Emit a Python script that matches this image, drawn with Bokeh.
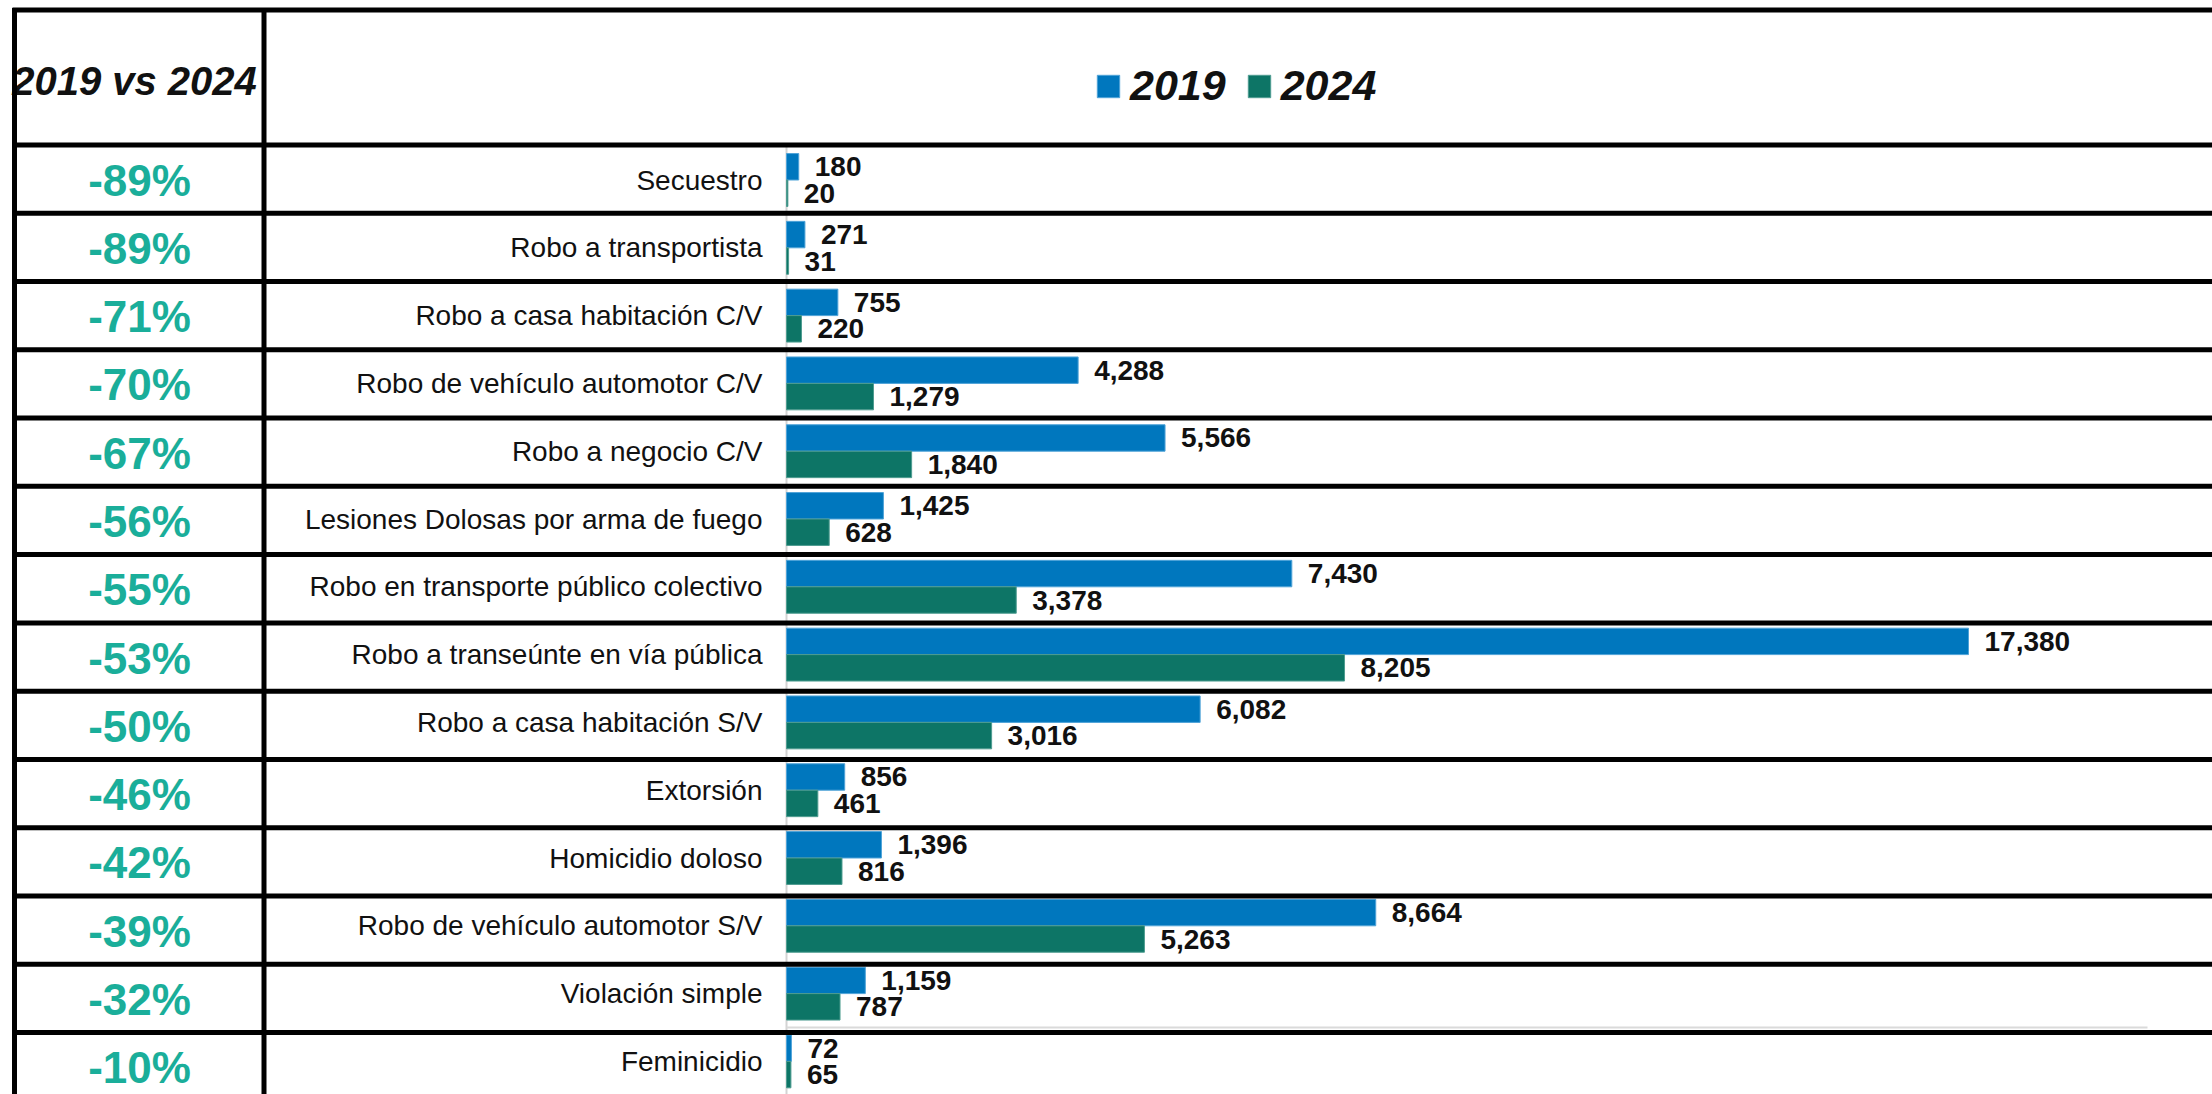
from bokeh.plotting import figure
from bokeh.models import Range1d, ColumnDataSource, Legend, LegendItem
from bokeh.core.properties import value
from bokeh.embed import file_html
from bokeh.resources import INLINE

# ---------------- data ----------------
categories = [
    "Secuestro",
    "Robo a transportista",
    "Robo a casa habitación C/V",
    "Robo de vehículo automotor C/V",
    "Robo a negocio C/V",
    "Lesiones Dolosas por arma de fuego",
    "Robo en transporte público colectivo",
    "Robo a transeúnte en vía pública",
    "Robo a casa habitación S/V",
    "Extorsión",
    "Homicidio doloso",
    "Robo de vehículo automotor S/V",
    "Violación simple",
    "Feminicidio",
]
values_2019 = [180, 271, 755, 4288, 5566, 1425, 7430, 17380, 6082, 856, 1396, 8664, 1159, 72]
values_2024 = [20, 31, 220, 1279, 1840, 628, 3378, 8205, 3016, 461, 816, 5263, 787, 65]
change_labels = ["-89%", "-89%", "-71%", "-70%", "-67%", "-56%", "-55%", "-53%",
                 "-50%", "-46%", "-42%", "-39%", "-32%", "-10%"]
series_names = ["2019", "2024"]
header_label = "2019 vs 2024"

# ---------------- layout constants ----------------
W, H = 2212, 1094
PX_PER_UNIT = 0.06801          # pixels per incident
ZERO_PX = 786                  # x pixel of the value axis zero
CAT_STEP = 67.8                # pixels per chart category
FIRST_CAT = 179.5              # y pixel of the first category centre
TABLE_ROW = 68.27              # pixels per table row
HEADER_BOTTOM = 144.5          # y pixel of header bottom line
BAR_H = 0.39
BLUE = "#0077BE"
TEAL = "#0D7566"
PCT = "#1AAE9A"
FONT = "Liberation Sans"

n = len(categories)
idx = list(range(n))

p = figure(
    width=W, height=H,
    x_range=Range1d(-ZERO_PX / PX_PER_UNIT, (W - ZERO_PX) / PX_PER_UNIT),
    y_range=Range1d((H - FIRST_CAT) / CAT_STEP, -FIRST_CAT / CAT_STEP),
    output_backend="svg", toolbar_location=None, min_border=0,
)
p.extra_x_ranges = {"px": Range1d(0, W)}
p.extra_y_ranges = {"py": Range1d(H, 0)}
p.axis.visible = False
p.grid.visible = False
p.outline_line_color = None
p.background_fill_color = "white"
p.border_fill_color = "white"

# light grey chart frame lines
p.segment(x0=[ZERO_PX], y0=[HEADER_BOTTOM], x1=[ZERO_PX], y1=[H], x_range_name="px",
          y_range_name="py", line_color="#D3D3D3", line_width=2)
p.segment(x0=[ZERO_PX], y0=[1027], x1=[2147], y1=[1027], x_range_name="px",
          y_range_name="py", line_color="#DADADA", line_width=2)

# bars
src = ColumnDataSource(dict(
    cat=categories,
    y19=[i - BAR_H / 2 for i in idx],
    y24=[i + BAR_H / 2 for i in idx],
    yc=idx,
    v19=values_2019,
    v24=values_2024,
    t19=[f"{v:,}" for v in values_2019],
    t24=[f"{v:,}" for v in values_2024],
))
r19 = p.hbar(y="y19", left=0, right="v19", height=BAR_H, source=src,
             fill_color=BLUE, line_color="#4FA3D8", line_width=1)
r24 = p.hbar(y="y24", left=0, right="v24", height=BAR_H, source=src,
             fill_color=TEAL, line_color="#4E9C90", line_width=1)

# value labels
for col_x, col_y, col_t in (("v19", "y19", "t19"), ("v24", "y24", "t24")):
    p.text(x=col_x, y=col_y, text=col_t, source=src,
           x_offset=16, text_align="left", text_baseline="middle",
           text_font=value(FONT), text_font_style="bold", text_font_size="28px",
           text_color="#111111")

# category labels
p.text(x=0, y="yc", text="cat", source=src, x_offset=-24, text_align="right",
       text_baseline="middle", text_font=value(FONT), text_font_size="28px",
       text_color="#111111")

# percent change labels (left column, table rows)
pct_src = ColumnDataSource(dict(
    pct=change_labels,
    y=[HEADER_BOTTOM + TABLE_ROW * (i + 0.5) + 1 for i in idx],
))
p.text(x=139, y="y", text="pct", source=pct_src, x_range_name="px", y_range_name="py",
       text_align="center", text_baseline="middle", text_font=value(FONT),
       text_font_style="bold", text_font_size="44px", text_color=PCT)

# header label
p.text(x=[134], y=[80], text=[header_label], x_range_name="px", y_range_name="py",
       text_align="center", text_baseline="middle", text_font=value(FONT),
       text_font_style="bold italic", text_font_size="40px", text_color="#111111")

# table lines
hy = [9.5] + [HEADER_BOTTOM + TABLE_ROW * k for k in range(n)]
p.segment(x0=[12] * len(hy), y0=hy, x1=[W] * len(hy), y1=hy, x_range_name="px",
          y_range_name="py", line_color="black", line_width=5)
p.segment(x0=[14, 263.5], y0=[7.5, 7.5], x1=[14, 263.5], y1=[H, H],
          x_range_name="px", y_range_name="py", line_color="black", line_width=5)

# legend
legend = Legend(
    items=[LegendItem(label=series_names[0], renderers=[r19]),
           LegendItem(label=series_names[1], renderers=[r24])],
    orientation="horizontal", location=(1094, 984),
    glyph_width=28, glyph_height=28, label_standoff=8, spacing=19,
    padding=0, margin=0,
    label_text_font=FONT, label_text_font_style="bold italic",
    label_text_font_size="43px", label_text_color="#111111",
    border_line_alpha=0, background_fill_alpha=0,
)
p.add_layout(legend)

open("out.html", "w").write(file_html(p, INLINE))
